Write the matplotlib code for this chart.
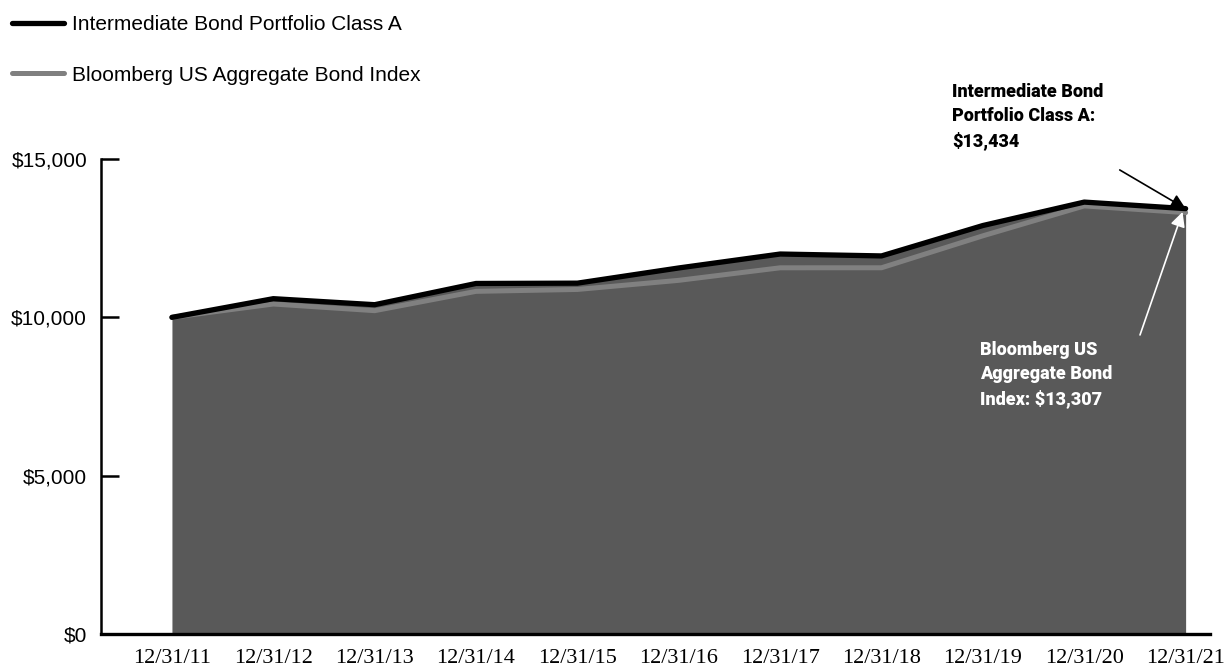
import numpy as np
import matplotlib.pyplot as plt

# values
dates = ["12/31/11", "12/31/12", "12/31/13", "12/31/14", "12/31/15", "12/31/16",
         "12/31/17", "12/31/18", "12/31/19", "12/31/20", "12/31/21"]
portfolio = [10000, 10590, 10400, 11070, 11080, 11560, 12000, 11940, 12900, 13640, 13434]
index_vals = [10000, 10421, 10211, 10821, 10881, 11169, 11565, 11566, 12575, 13519, 13307]
yticks = [0, 5000, 10000, 15000]
yticklabels = ["$0", "$5,000", "$10,000", "$15,000"]

x = np.arange(len(dates))

fig = plt.figure(figsize=(12.27, 6.69), dpi=100)
ax = fig.add_axes([0.0823, 0.0523, 0.9038, 0.71])

ax.fill_between(x, 0, portfolio, color="#595959", lw=0, zorder=1)
ax.plot(x, index_vals, color="#808080", lw=3.6, solid_capstyle="round",
        label="Bloomberg US Aggregate Bond Index", zorder=2)
ax.plot(x, portfolio, color="black", lw=3.8, solid_capstyle="round",
        label="Intermediate Bond Portfolio Class A", zorder=3)

ax.set_xlim(-0.70, 10.24)
ax.set_ylim(0, 15000)
ax.set_xticks(x)
ax.set_xticklabels(dates, family="Liberation Serif", fontsize=16)
ax.set_yticks(yticks)
ax.set_yticklabels(yticklabels, family="Liberation Sans", fontsize=15)
ax.tick_params(axis="x", length=0, pad=11)
ax.tick_params(axis="y", direction="in", length=13, width=1.8, pad=10)
for s in ["top", "right"]:
    ax.spines[s].set_visible(False)
ax.spines["left"].set_linewidth(1.8)
ax.spines["bottom"].set_linewidth(2.4)

# legend (portfolio first)
h, l = ax.get_legend_handles_labels()
fig.legend(h[::-1], l[::-1], loc="upper left", bbox_to_anchor=(-0.0055, 1.005),
           frameon=False, handlelength=2.5, handletextpad=0.4,
           labelspacing=1.5, prop={"family": "Liberation Sans", "size": 15})

# callouts: text and arrows
ax.text(7.70, 17400, "Intermediate Bond\nPortfolio Class A:\n$13,434",
        ha="left", va="top", fontsize=13, fontweight="heavy", family="Roboto",
        color="black", linespacing=1.42, clip_on=False)
ax.annotate("", xy=(x[-1], portfolio[-1]), xytext=(9.35, 14655),
            annotation_clip=False,
            arrowprops=dict(arrowstyle="-|>", color="black", lw=1.2,
                            mutation_scale=22, shrinkA=0, shrinkB=0))
ax.text(7.97, 9250, "Bloomberg US\nAggregate Bond\nIndex: $13,307",
        ha="left", va="top", fontsize=13, fontweight="heavy", family="Roboto",
        color="white", linespacing=1.42, clip_on=False)
ax.annotate("", xy=(9.97, 13329), xytext=(9.55, 9444),
            annotation_clip=False,
            arrowprops=dict(arrowstyle="-|>", color="white", lw=1.2,
                            mutation_scale=22, shrinkA=0, shrinkB=0))

fig.savefig("out.png", dpi=100)
